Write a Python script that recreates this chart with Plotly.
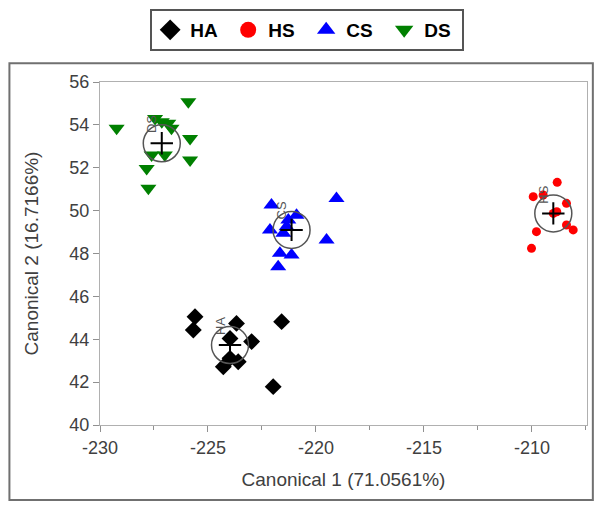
import plotly.graph_objects as go

# ---- data ----
groups = ["HA", "HS", "CS", "DS"]

ha_x = [-225.60, -225.68, -223.68, -221.59, -223.98, -222.98, -224.29, -223.98, -223.60, -221.98]
ha_y = [45.05, 44.43, 44.74, 44.82, 44.04, 43.89, 42.72, 43.11, 42.95, 41.79]

hs_x = [-208.83, -209.94, -209.48, -208.40, -209.01, -208.40, -208.09, -209.79, -210.02, -208.85]
hs_y = [51.32, 50.65, 50.73, 50.34, 49.87, 49.33, 49.10, 49.02, 48.24, 49.95]

cs_x = [-219.05, -222.06, -220.90, -221.28, -222.13, -221.51, -219.51, -221.67, -221.13, -221.75, -221.36]
cs_y = [50.57, 50.26, 49.79, 49.56, 49.10, 48.94, 48.63, 48.01, 47.93, 47.38, 49.25]

ds_x = [-225.91, -229.23, -227.45, -227.14, -226.84, -226.69, -225.83, -227.61, -227.00, -225.83, -227.84, -227.76]
ds_y = [55.08, 53.84, 54.30, 54.15, 54.07, 53.84, 53.37, 52.59, 52.59, 52.36, 51.97, 51.04]

# group means (centres of the confidence circles)
mean_x = [-223.98, -209.01, -221.13, -227.14]
mean_y = [43.73, 49.87, 49.10, 53.14]

x_ticks = [-230, -225, -220, -215, -210]
x_tick_labels = ["-230", "-225", "-220", "-215", "-210"]
y_ticks = [40, 42, 44, 46, 48, 50, 52, 54, 56]

colors = ["black", "#ff0000", "#0000ff", "#008000"]
symbols = ["diamond", "circle", "triangle-up", "triangle-down"]
sizes = [13, 9, 14, 14]
legend_sizes = [18, 18, 18, 18]
xs = [ha_x, hs_x, cs_x, ds_x]
ys = [ha_y, hs_y, cs_y, ds_y]

fig = go.Figure()

for g, x, y, c, s, sz, lsz in zip(groups, xs, ys, colors, symbols, sizes, legend_sizes):
    fig.add_trace(go.Scatter(
        x=x, y=y, mode="markers", name=g, legendgroup=g, showlegend=False,
        marker=dict(color=c, symbol=s, size=sz, line=dict(width=0)),
    ))
    # legend entry with the larger legend symbol
    fig.add_trace(go.Scatter(
        x=[None], y=[None], mode="markers", name=g, legendgroup=g, showlegend=True,
        marker=dict(color=c, symbol=s, size=lsz, line=dict(width=0)),
    ))

# confidence circles
fig.add_trace(go.Scatter(
    x=mean_x, y=mean_y, mode="markers", showlegend=False, hoverinfo="skip",
    marker=dict(symbol="circle-open", size=37, color="#555555", line=dict(width=1.5, color="#555555")),
))
# mean crosses
fig.add_trace(go.Scatter(
    x=mean_x, y=mean_y, mode="markers", showlegend=False, hoverinfo="skip",
    marker=dict(symbol="cross-thin", size=16, line=dict(width=2, color="black")),
))

for g, mx, my in zip(groups, mean_x, mean_y):
    fig.add_annotation(x=mx, y=my, xref="x", yref="y", text=g, showarrow=False,
                       textangle=-90, xshift=-10, yshift=19,
                       font=dict(family="Liberation Sans", size=13, color="#555555"))

# outer frame
fig.add_shape(type="rect", xref="paper", yref="paper",
              x0=-0.186, x1=1.012, y0=-0.219, y1=1.055,
              line=dict(color="#707070", width=2), layer="below")

fig.update_layout(
    width=594, height=502,
    margin=dict(l=92, r=15, t=74, b=85, autoexpand=False),
    paper_bgcolor="white", plot_bgcolor="white",
    font=dict(family="Liberation Sans", size=18, color="#404040"),
    showlegend=True,
    legend=dict(
        orientation="h", x=0.103, y=1.213, xanchor="left", yanchor="top",
        bordercolor="#555555", borderwidth=2, bgcolor="white",
        font=dict(family="Liberation Sans", size=19, color="black", weight="bold"),
        entrywidth=33, itemsizing="trace",
    ),
    xaxis=dict(
        range=[-230, -207.45], tickvals=x_ticks, ticktext=x_tick_labels,
        ticks="outside", ticklen=6,
        tickcolor="#909090", showgrid=False, zeroline=False,
        showline=True, linecolor="#b0b0b0", linewidth=1, mirror=True,
        minor=dict(dtick=2.5, ticks="outside", ticklen=4, tickcolor="#909090"),
        title=dict(text="Canonical 1 (71.0561%)", font=dict(size=19, color="#404040"), standoff=16),
        tickfont=dict(size=18, color="#404040"),
    ),
    yaxis=dict(
        range=[40, 56], tickvals=y_ticks, ticks="outside", ticklen=6,
        tickcolor="#909090", showgrid=False, zeroline=False,
        showline=True, linecolor="#b0b0b0", linewidth=1, mirror=True,
        title=dict(text="Canonical 2 (16.7166%)", font=dict(size=19, color="#404040"), standoff=25),
        tickfont=dict(size=18, color="#404040"),
    ),
)

fig.write_html("out.html")
